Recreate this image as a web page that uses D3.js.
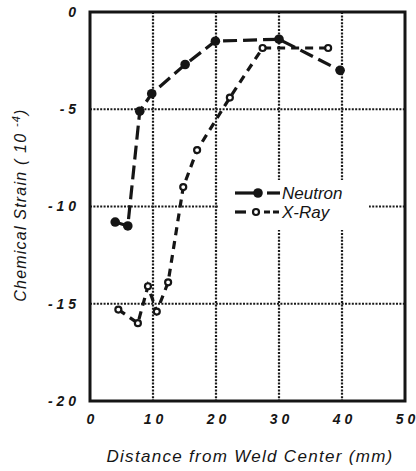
<!DOCTYPE html>
<html>
<head>
<meta charset="utf-8">
<script src="https://cdn.jsdelivr.net/npm/d3@7"></script>
<style>
  body { margin: 0; background: #fff; }
  text { font-family: "Liberation Sans", Arial, sans-serif; fill: #151515; }
</style>
</head>
<body>
<svg id="chart" width="416" height="471"></svg>
<script>
// values
var neutronX = [4, 6, 7.9, 9.8, 15.1, 19.9, 30, 39.7],
    neutronY = [-10.8, -11.0, -5.1, -4.2, -2.7, -1.5, -1.4, -3.0];

var xrayX = [4.5, 7.6, 9.2, 10.6, 12.4, 14.8, 17, 22.2, 27.4, 37.8],
    xrayY = [-15.3, -16.0, -14.1, -15.4, -13.9, -9.0, -7.1, -4.4, -1.85, -1.85];

var xTicks = [0, 10, 20, 30, 40, 50],
    yTicks = [0, -5, -10, -15, -20],
    xGrid = [10, 20, 30, 40],
    yGrid = [-5, -10, -15];

var svg = d3.select('#chart'),
    plotL = 90, plotR = 405, plotT = 12, plotB = 401;

var x = d3.scaleLinear().domain([0, 50]).range([plotL, plotR]),
    y = d3.scaleLinear().domain([0, -20]).range([plotT, plotB]);

// dotted grid
var grid = svg.append('g')
    .attr('stroke', '#1a1a1a')
    .attr('stroke-width', 2.2)
    .attr('stroke-dasharray', '2,1.4');

grid.selectAll('.gx').data(xGrid).enter().append('line')
    .attr('x1', d => x(d)).attr('x2', d => x(d))
    .attr('y1', plotT).attr('y2', plotB);

grid.selectAll('.gy').data(yGrid).enter().append('line')
    .attr('y1', d => y(d)).attr('y2', d => y(d))
    .attr('x1', plotL).attr('x2', plotR);

// legend backing hides the grid
svg.append('rect')
    .attr('x', 218).attr('y', 180)
    .attr('width', 151).attr('height', 50)
    .attr('fill', '#fff');

// tick labels via axes, domain/ticks hidden
var xAxis = svg.append('g')
    .attr('transform', 'translate(0,' + plotB + ')')
    .call(d3.axisBottom(x).tickValues(xTicks).tickSize(0).tickPadding(13)
        .tickFormat(d => String(d).split('').join(' ')));

var yAxis = svg.append('g')
    .attr('transform', 'translate(' + plotL + ',0)')
    .call(d3.axisLeft(y).tickValues(yTicks).tickSize(0).tickPadding(14)
        .tickFormat(d => d === 0 ? '0' : '- ' + String(Math.abs(d)).split('').join(' ')));

[xAxis, yAxis].forEach(function (a) {
    a.select('.domain').remove();
    a.selectAll('text')
        .attr('font-size', 14)
        .attr('font-weight', 'bold')
        .attr('font-style', 'italic')
        .attr('fill', '#151515')
        .style('font-family', '"Liberation Sans", Arial, sans-serif');
});

// series
var line = d3.line().x(d => x(d[0])).y(d => y(d[1]));
var neutron = neutronX.map((v, i) => [v, neutronY[i]]),
    xray = xrayX.map((v, i) => [v, xrayY[i]]);

svg.append('path').datum(xray)
    .attr('d', line)
    .attr('fill', 'none').attr('stroke', '#151515')
    .attr('stroke-width', 3.2)
    .attr('stroke-dasharray', '8,6');

svg.append('path').datum(neutron)
    .attr('d', line)
    .attr('fill', 'none').attr('stroke', '#151515')
    .attr('stroke-width', 3.2)
    .attr('stroke-dasharray', '14,6');

svg.selectAll('.np').data(neutron).enter().append('circle')
    .attr('cx', d => x(d[0])).attr('cy', d => y(d[1]))
    .attr('r', 4.8).attr('fill', '#151515');

svg.selectAll('.xp').data(xray).enter().append('circle')
    .attr('cx', d => x(d[0])).attr('cy', d => y(d[1]))
    .attr('r', 3).attr('fill', '#fff')
    .attr('stroke', '#151515').attr('stroke-width', 2.2);

// frame
svg.append('rect')
    .attr('x', plotL).attr('y', plotT)
    .attr('width', plotR - plotL).attr('height', plotB - plotT)
    .attr('fill', 'none').attr('stroke', '#151515').attr('stroke-width', 3);

// legend
var legend = svg.append('g');
legend.append('line').attr('x1', 235).attr('x2', 258).attr('y1', 193).attr('y2', 193)
    .attr('stroke', '#151515').attr('stroke-width', 3.2);
legend.append('line').attr('x1', 267).attr('x2', 280).attr('y1', 193).attr('y2', 193)
    .attr('stroke', '#151515').attr('stroke-width', 3.2);
legend.append('circle').attr('cx', 258).attr('cy', 193).attr('r', 4.8).attr('fill', '#151515');
legend.append('text').attr('x', 282).attr('y', 199).attr('font-size', 17)
    .attr('font-style', 'italic').text('Neutron');

legend.append('line').attr('x1', 235).attr('x2', 246).attr('y1', 212).attr('y2', 212)
    .attr('stroke', '#151515').attr('stroke-width', 3.2);
legend.append('line').attr('x1', 264).attr('x2', 280).attr('y1', 212).attr('y2', 212)
    .attr('stroke', '#151515').attr('stroke-width', 3.2)
    .attr('stroke-dasharray', '6,3');
legend.append('circle').attr('cx', 256).attr('cy', 212).attr('r', 3)
    .attr('fill', '#fff').attr('stroke', '#151515').attr('stroke-width', 2.2);
legend.append('text').attr('x', 282).attr('y', 218).attr('font-size', 17)
    .attr('font-style', 'italic').text('X-Ray');

// axis titles
svg.append('text')
    .attr('x', 250).attr('y', 462)
    .attr('text-anchor', 'middle')
    .attr('font-size', 17).attr('font-style', 'italic')
    .attr('letter-spacing', 1.3)
    .text('Distance from Weld Center (mm)');

var yt = svg.append('text')
    .attr('transform', 'translate(26,205) rotate(-90)')
    .attr('text-anchor', 'middle')
    .attr('font-size', 16).attr('font-style', 'italic')
    .attr('letter-spacing', 1.2);
yt.append('tspan').text('Chemical Strain ( 10 ');
yt.append('tspan').attr('dy', -6).attr('font-size', 11).text('-4');
yt.append('tspan').attr('dy', 6).text(')');
</script>
</body>
</html>
